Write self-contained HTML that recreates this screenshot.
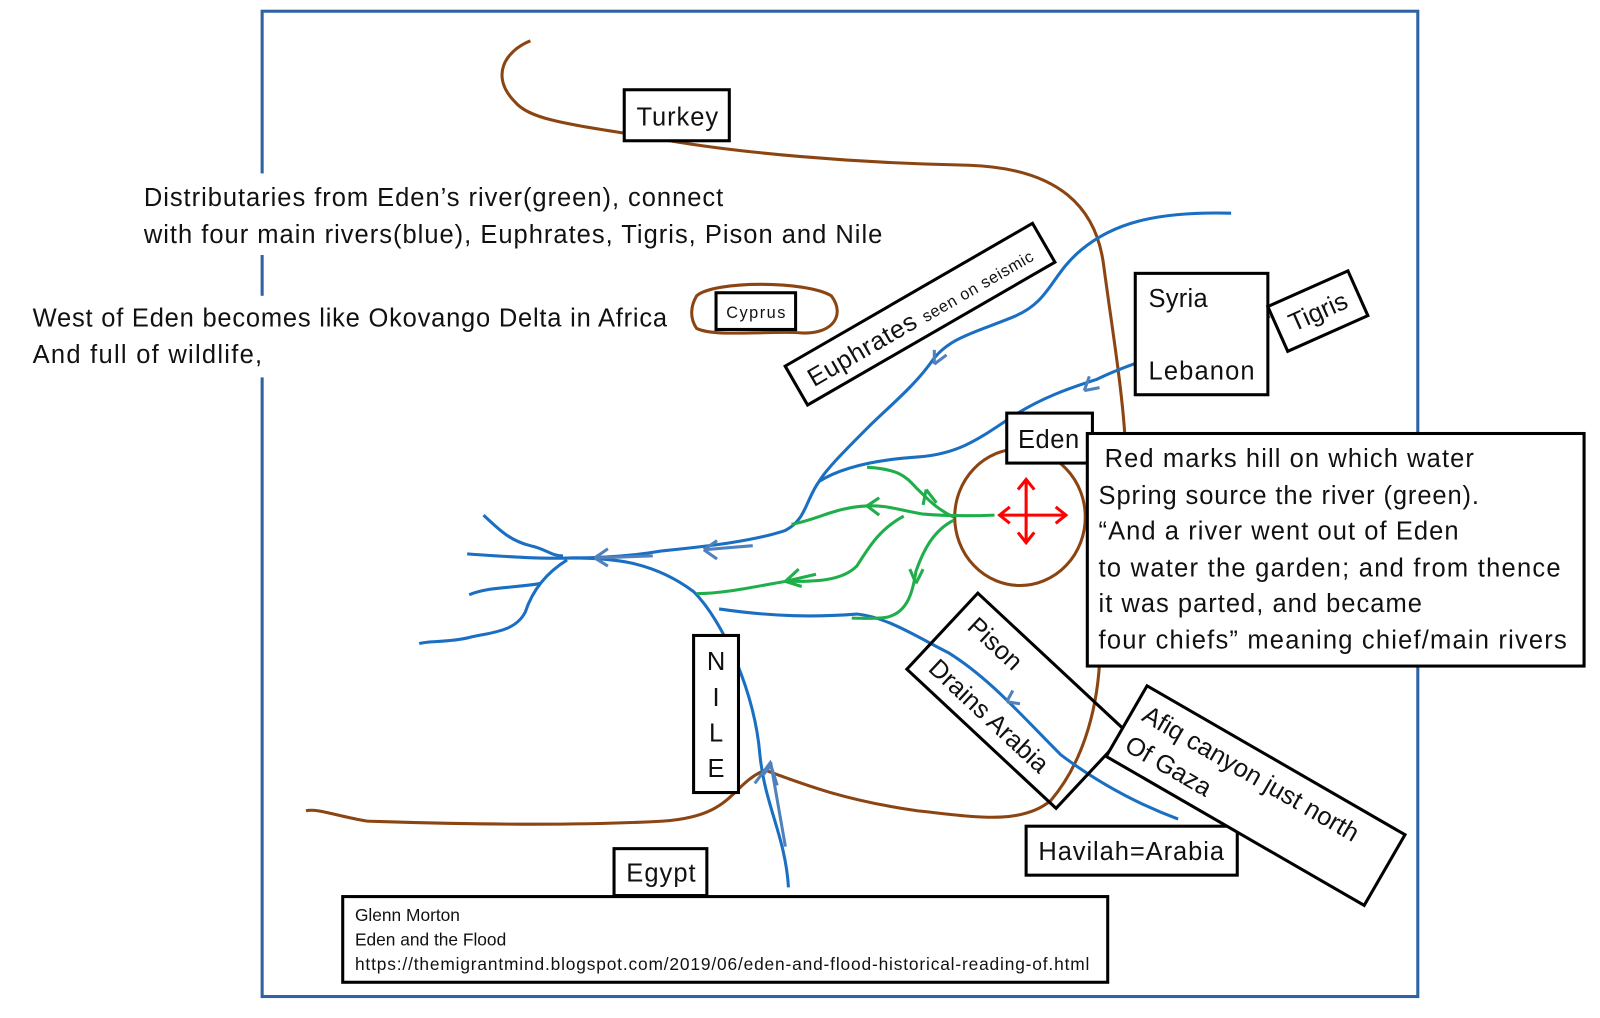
<!DOCTYPE html>
<html><head><meta charset="utf-8"><style>
html,body{margin:0;padding:0;background:#fff;}
svg{display:block;font-family:"Liberation Sans",sans-serif;}
</style></head><body>
<svg width="1600" height="1018" viewBox="0 0 1600 1018" xmlns="http://www.w3.org/2000/svg">
<g transform="scale(1.02)">
<rect x="257" y="11" width="1133" height="966" fill="none" stroke="#2e62a3" stroke-width="3"/>
<g fill="none" stroke="#8b4513" stroke-width="3">
<path d="M520,40 C495,50 480,75 505,100 C520,118 560,122 640,135 C720,150 840,160 950,162 C1040,165 1075,205 1082,260 C1090,320 1100,380 1103,430"/>
<path d="M1078,650 C1075,700 1060,750 1030,785 C1000,810 950,800 900,795 C830,785 790,770 750,755 C715,770 720,800 650,805 C560,810 450,808 360,805 C330,800 310,792 300,795"/>
<ellipse cx="1000" cy="507" rx="64" ry="67"/>
<path d="M683,290 C700,275 790,275 815,290 C830,310 815,330 780,326 C740,325 700,330 683,322 C676,312 677,300 683,290Z"/>
</g>
<g fill="none" stroke="#1a6fc2" stroke-width="3">
<path d="M1207,209 C1130,207 1090,220 1060,245 C1030,270 1030,295 995,310 C960,325 930,330 913,355 C895,380 870,400 850,420 C830,440 810,460 803,472 C790,490 790,510 770,520 C740,530 700,535 650,540 C620,545 590,547 560,547"/>
<path d="M803,472 C830,455 870,450 900,448 C940,445 960,430 990,410 C1020,390 1050,380 1075,372 C1120,350 1200,330 1245,310"/>
<path d="M458,543 C500,546 530,548 560,547 C600,547 640,550 680,580 C710,610 740,680 745,740 C750,790 770,820 773,870"/>
<path d="M474,505 C490,520 500,530 520,535 C535,538 540,545 552,545"/>
<path d="M460,583 C480,575 500,577 530,572"/>
<path d="M556,549 C530,565 520,585 515,600 C505,620 480,620 460,625 C440,630 420,628 411,631"/>
<path d="M705,597 C760,605 800,605 840,602 C870,605 900,625 930,640 C970,665 1000,700 1040,740 C1080,770 1120,790 1155,803"/>
</g>
<g fill="none" stroke="#4f81bd" stroke-width="3">
<path d="M748,760 L756,750 L770,830 M740,768 L755,748 L762,770"/>
<path d="M583,547 L596,538 M583,547 L596,555 M583,547 L640,545"/>
<path d="M690,539 L703,530 M690,539 L703,548 M690,539 L738,535"/>
<path d="M916,357 L916,343 M916,357 L928,348"/>
<path d="M1063,383 L1068,369 M1063,383 L1078,380"/>
<path d="M987,688 L993,677 M987,688 L1000,690"/>
</g>
<g fill="none" stroke="#1fae4a" stroke-width="3">
<path d="M975,505 C950,506 930,506 905,504 C880,500 870,495 850,496 C820,497 800,510 776,514"/>
<path d="M935,507 C920,500 910,490 900,480 C890,470 885,460 850,458"/>
<path d="M886,506 C860,520 850,540 840,555 C825,570 800,570 770,570 C740,575 710,582 683,582"/>
<path d="M935,510 C915,520 905,540 898,560 C895,580 890,600 870,605 C860,607 845,606 835,606"/>
<path d="M850,496 L862,488 M850,496 L862,505"/>
<path d="M908,480 L905,495 M908,480 L918,493"/>
<path d="M898,572 L892,558 M898,572 L905,558"/>
<path d="M770,570 L783,558 M770,570 L786,575 M770,570 L800,563"/>
</g>
<g stroke="#ff0000" stroke-width="3" fill="none">
<path d="M980,505 L1045,505 M1006,470 L1006,532"/>
<path d="M990,497 L980,505 L990,513 M1035,497 L1045,505 L1035,513 M998,480 L1006,470 L1014,480 M998,522 L1006,532 L1014,522"/>
</g>
<rect x="135" y="170" width="740" height="80" fill="#fff"/>
<text font-size="25" fill="#111"><tspan x="141" y="202" textLength="568">Distributaries from Eden’s river(green), connect</tspan><tspan x="141" y="238" textLength="724">with  four main rivers(blue), Euphrates, Tigris, Pison and Nile</tspan></text>
<rect x="28" y="290" width="630" height="80" fill="#fff"/>
<text font-size="25" fill="#111"><tspan x="32" y="320" textLength="622">West of Eden becomes like Okovango Delta in Africa</tspan><tspan x="32" y="356" textLength="225">And full of wildlife,</tspan></text>
<g fill="#fff" stroke="#000" stroke-width="3">
<rect x="612" y="88" width="103" height="50"/>
<rect x="702" y="287" width="78" height="36"/>
<rect x="1113" y="268" width="130" height="119"/>
<rect x="987" y="405" width="84" height="49"/>
<rect x="1066" y="425" width="487" height="228"/>
<rect x="680" y="623" width="44" height="154"/>
<rect x="1006" y="810" width="207" height="48"/>
<rect x="602" y="832" width="91" height="46"/>
<rect x="336" y="879" width="750" height="84"/>
</g>
<g font-size="25" fill="#111">
<text x="624" y="123" textLength="80">Turkey</text>
<text x="712" y="312" font-size="16" textLength="58">Cyprus</text>
<text x="1126" y="301" textLength="58">Syria</text>
<text x="1126" y="372" textLength="104">Lebanon</text>
<text x="998" y="439" textLength="60">Eden</text>
<text font-size="25"><tspan x="1083" y="458" textLength="362">Red marks hill on which water</tspan><tspan x="1077" y="494" textLength="373">Spring source the river (green).</tspan><tspan x="1077" y="529" textLength="353">“And a river went out of Eden</tspan><tspan x="1077" y="565" textLength="453">to water the garden; and from thence</tspan><tspan x="1077" y="600" textLength="317">it was parted, and became</tspan><tspan x="1077" y="636" textLength="459">four chiefs” meaning chief/main rivers</tspan></text>
<text x="702" y="657" text-anchor="middle">N</text>
<text x="702" y="692" text-anchor="middle">I</text>
<text x="702" y="727" text-anchor="middle">L</text>
<text x="702" y="762" text-anchor="middle">E</text>
<text x="1018" y="843" textLength="182">Havilah=Arabia</text>
<text x="614" y="864" textLength="68">Egypt</text>
</g>
<text font-size="17" fill="#111"><tspan x="348" y="903">Glenn Morton</tspan><tspan x="348" y="927">Eden and the Flood</tspan><tspan x="348" y="951" textLength="720">https://themigrantmind.blogspot.com/2019/06/eden-and-flood-historical-reading-of.html</tspan></text>
<g transform="translate(902,308) rotate(-30)">
<rect x="-140" y="-22" width="280" height="44" fill="#fff" stroke="#000" stroke-width="3"/>
<text x="-126" y="10" font-size="25" fill="#111" textLength="250">Euphrates <tspan font-size="16">seen on seismic</tspan></text>
</g>
<g transform="translate(1292,305) rotate(-24)">
<rect x="-43" y="-24" width="86" height="48" fill="#fff" stroke="#000" stroke-width="3"/>
<text x="0" y="9" font-size="25" fill="#111" text-anchor="middle">Tigris</text>
</g>
<g transform="translate(997,687) rotate(43)">
<rect x="-100" y="-51" width="200" height="102" fill="none" stroke="#000" stroke-width="3"/>
<text x="-85" y="-18" font-size="25" fill="#111">Pison</text>
<text x="-85" y="38" font-size="25" fill="#111">Drains Arabia</text>
</g>
<g transform="translate(1231,780) rotate(30)">
<rect x="-146" y="-40" width="292" height="80" fill="#fff" stroke="#000" stroke-width="3"/>
<text x="-135" y="-8" font-size="25" fill="#111">Afiq canyon just north</text>
<text x="-135" y="26" font-size="25" fill="#111">Of Gaza</text>
</g>
</g>
</svg>
</body></html>
